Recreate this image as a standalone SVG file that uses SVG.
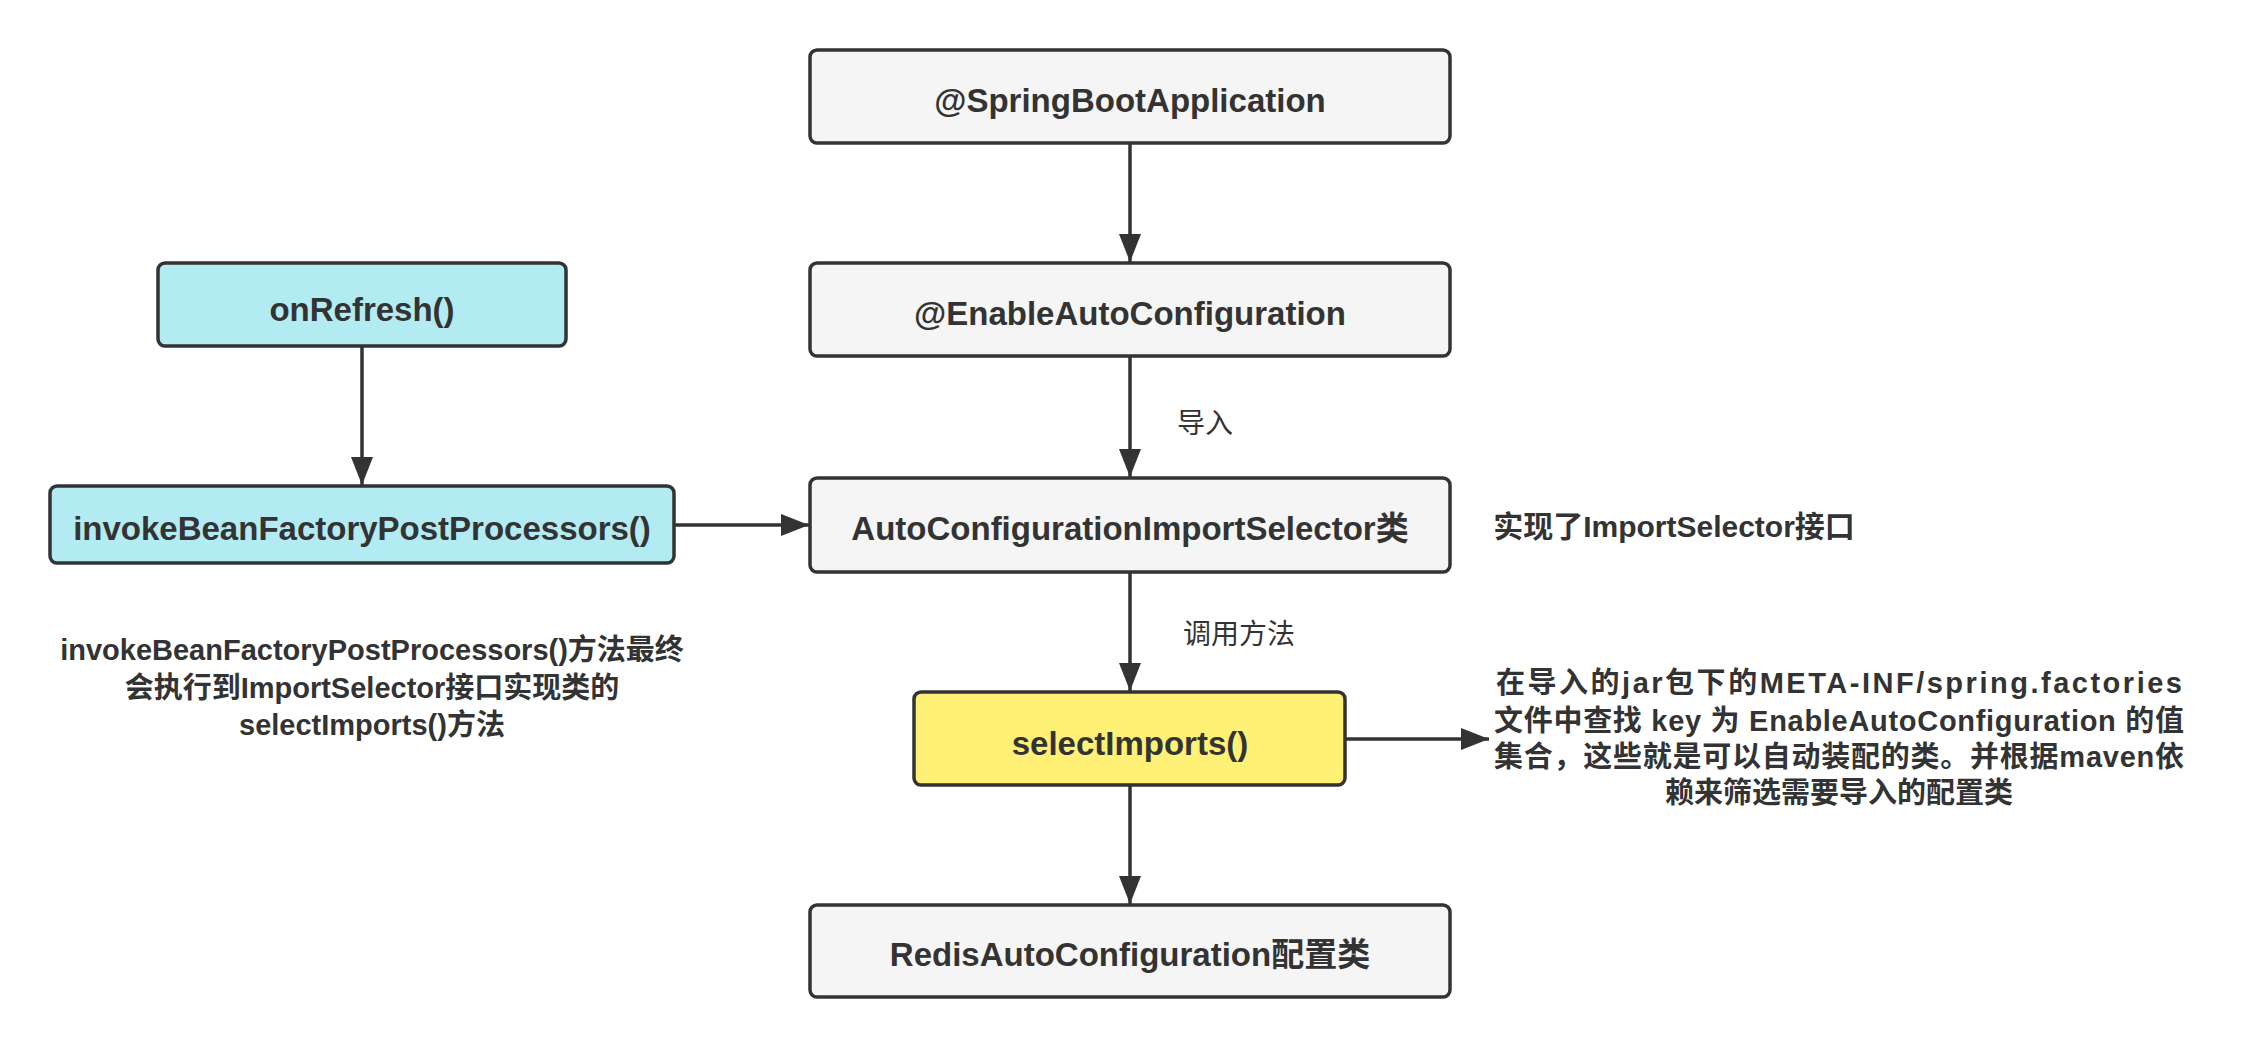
<svg xmlns="http://www.w3.org/2000/svg" width="2244" height="1049" viewBox="0 0 2244 1049">
<style>
.box{stroke:#333;stroke-width:3.5}
.gray{fill:#f5f5f5}
.cyan{fill:#b2ebf2}
.yellow{fill:#fff176}
.t{font-family:"Liberation Sans","Noto Sans CJK SC",sans-serif;font-weight:bold;fill:#333;text-anchor:middle;dominant-baseline:central}
.n{font-size:33px}
.s{font-size:29px}
.c{font-family:"Noto Sans CJK SC",sans-serif;font-weight:normal;font-size:28px}
.edge{stroke:#333;stroke-width:3.5;fill:none;marker-end:url(#arr)}
</style>
<defs>
<marker id="arr" markerUnits="userSpaceOnUse" markerWidth="30" markerHeight="22" refX="28" refY="11" orient="auto">
<path d="M0,0 L28,11 L0,22 z" fill="#333"/>
</marker>
</defs>
<rect width="2244" height="1049" fill="#fff"/>
<g id="connectors">
<line class="edge" x1="1130" y1="144" x2="1130" y2="262"/>
<line class="edge" x1="1130" y1="357" x2="1130" y2="477"/>
<line class="edge" x1="1130" y1="573" x2="1130" y2="691"/>
<line class="edge" x1="1130" y1="786" x2="1130" y2="904"/>
<line class="edge" x1="362" y1="347" x2="362" y2="485"/>
<line class="edge" x1="675" y1="525" x2="809" y2="525"/>
<line class="edge" x1="1346" y1="739" x2="1489" y2="739"/>
<text class="t c" x="1205" y="421">导入</text>
<text class="t c" x="1239" y="632">调用方法</text>
</g>
<g id="springboot">
<rect class="box gray" x="810" y="50" width="640" height="93" rx="7"/>
<text class="t n" x="1130" y="100">@SpringBootApplication</text>
</g>
<g id="enableauto">
<rect class="box gray" x="810" y="263" width="640" height="93" rx="7"/>
<text class="t n" x="1130" y="313">@EnableAutoConfiguration</text>
</g>
<g id="selector">
<rect class="box gray" x="810" y="478" width="640" height="94" rx="7"/>
<text class="t n" x="1130" y="528">AutoConfigurationImportSelector类</text>
</g>
<g id="selectimports">
<rect class="box yellow" x="914" y="692" width="431" height="93" rx="7"/>
<text class="t n" x="1130" y="743">selectImports()</text>
</g>
<g id="redis">
<rect class="box gray" x="810" y="905" width="640" height="92" rx="7"/>
<text class="t n" x="1130" y="954">RedisAutoConfiguration配置类</text>
</g>
<g id="onrefresh">
<rect class="box cyan" x="158" y="263" width="408" height="83" rx="7"/>
<text class="t n" x="362" y="309">onRefresh()</text>
</g>
<g id="invoke">
<rect class="box cyan" x="50" y="486" width="624" height="77" rx="7"/>
<text class="t n" x="362" y="528">invokeBeanFactoryPostProcessors()</text>
</g>
<g id="note-selector">
<text class="t s" x="1674" y="526" style="font-size:30px">实现了ImportSelector接口</text>
</g>
<g id="note-invoke">
<text class="t s" x="372" y="650">invokeBeanFactoryPostProcessors()方法最终</text>
<text class="t s" x="372" y="688">会执行到ImportSelector接口实现类的</text>
<text class="t s" x="372" y="725">selectImports()方法</text>
</g>
<g id="note-factories">
<text class="t s" x="1839" y="683" textLength="686" lengthAdjust="spacing">在导入的jar包下的META-INF/spring.factories</text>
<text class="t s" x="1839" y="721" textLength="690" lengthAdjust="spacing">文件中查找 key 为 EnableAutoConfiguration 的值</text>
<text class="t s" x="1839" y="757" textLength="690" lengthAdjust="spacing">集合，这些就是可以自动装配的类。并根据maven依</text>
<text class="t s" x="1839" y="793">赖来筛选需要导入的配置类</text>
</g>
</svg>
